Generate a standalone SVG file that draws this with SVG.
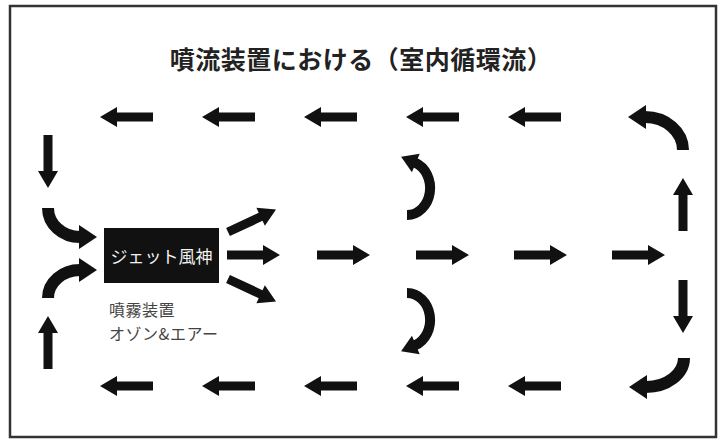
<svg xmlns="http://www.w3.org/2000/svg" xmlns:xlink="http://www.w3.org/1999/xlink" width="726" height="440" viewBox="0 0 726 440">
<style>
.frame{fill:#fff;stroke:#333;stroke-width:2.5}
.title{font-family:"Noto Sans CJK JP","Noto Sans",sans-serif;font-size:25px;font-weight:bold;fill:#222;letter-spacing:0.5px}
.box{fill:#111}
.boxt{font-family:"Noto Sans CJK JP",sans-serif;font-size:17px;fill:#f2f2f2}
.lbl{font-family:"Noto Sans CJK JP",sans-serif;font-size:16px;fill:#444;letter-spacing:0.5px}
.arr{fill:#111}
.crv{fill:none;stroke:#111;stroke-width:12;stroke-linecap:butt}
.crv2{fill:none;stroke:#111;stroke-width:10;stroke-linecap:butt}
</style>
<defs>
<path id="a" d="M0,-4.5 H36 V-10 L53,0 L36,10 V4.5 H0 Z"/>
<marker id="hb" markerUnits="userSpaceOnUse" viewBox="-1 -13 20 26" markerWidth="20" markerHeight="26" refX="0" refY="0" orient="auto" overflow="visible"><path d="M-1,-12 L17,0 L-1,12 Z" fill="#111"/></marker>
<marker id="hs" markerUnits="userSpaceOnUse" viewBox="-1 -11 18 22" markerWidth="18" markerHeight="22" refX="0" refY="0" orient="auto" overflow="visible"><path d="M-1,-10 L15,0 L-1,10 Z" fill="#111"/></marker>
</defs>
<rect class="frame" x="10" y="6" width="706" height="431"/>
<text class="title" x="361" y="69" text-anchor="middle">噴流装置における（室内循環流）</text>
<g id="jet">
<rect class="box" x="104" y="228" width="115" height="55"/>
<text class="boxt" x="161.5" y="263" text-anchor="middle">ジェット風神</text>
</g>
<g id="mist">
<text class="lbl" x="109" y="316">噴霧装置</text>
<text class="lbl" x="109" y="340">オゾン&amp;エアー</text>
</g>
<g id="connectors" class="arr">
<!-- top row, leftward -->
<use href="#a" transform="translate(153,117) rotate(180)"/>
<use href="#a" transform="translate(255,117) rotate(180)"/>
<use href="#a" transform="translate(357,117) rotate(180)"/>
<use href="#a" transform="translate(459,117) rotate(180)"/>
<use href="#a" transform="translate(561,117) rotate(180)"/>
<!-- bottom row, leftward -->
<use href="#a" transform="translate(153,386) rotate(180)"/>
<use href="#a" transform="translate(255,386) rotate(180)"/>
<use href="#a" transform="translate(357,386) rotate(180)"/>
<use href="#a" transform="translate(459,386) rotate(180)"/>
<use href="#a" transform="translate(561,386) rotate(180)"/>
<!-- middle row, rightward -->
<use href="#a" transform="translate(317,255)"/>
<use href="#a" transform="translate(416,255)"/>
<use href="#a" transform="translate(514,255)"/>
<use href="#a" transform="translate(612,255)"/>
<!-- fan from jet -->
<use href="#a" transform="translate(228,232) rotate(-25)"/>
<use href="#a" transform="translate(227,255)"/>
<use href="#a" transform="translate(228,279) rotate(25)"/>
<!-- left column -->
<use href="#a" transform="translate(48,135) rotate(90)"/>
<use href="#a" transform="translate(48,369) rotate(-90)"/>
<!-- right column -->
<use href="#a" transform="translate(683,231) rotate(-90)"/>
<use href="#a" transform="translate(683,280) rotate(90)"/>
<!-- corner curves -->
<path class="crv" d="M48,208 A32,29 0 0 0 80,237" marker-end="url(#hb)"/>
<path class="crv" d="M48,298 A32,28 0 0 1 80,270" marker-end="url(#hb)"/>
<path class="crv" d="M683,150 A38,33 0 0 0 645,117" marker-end="url(#hb)"/>
<path class="crv" d="M684,358 A38,29 0 0 1 646,387" marker-end="url(#hb)"/>
<!-- middle curves -->
<path class="crv2" d="M407,215 A23,27 0 0 0 414.9,162.6" marker-end="url(#hs)"/>
<path class="crv2" d="M407,293 A23,27 0 0 1 414.9,345.4" marker-end="url(#hs)"/>
</g>
</svg>
